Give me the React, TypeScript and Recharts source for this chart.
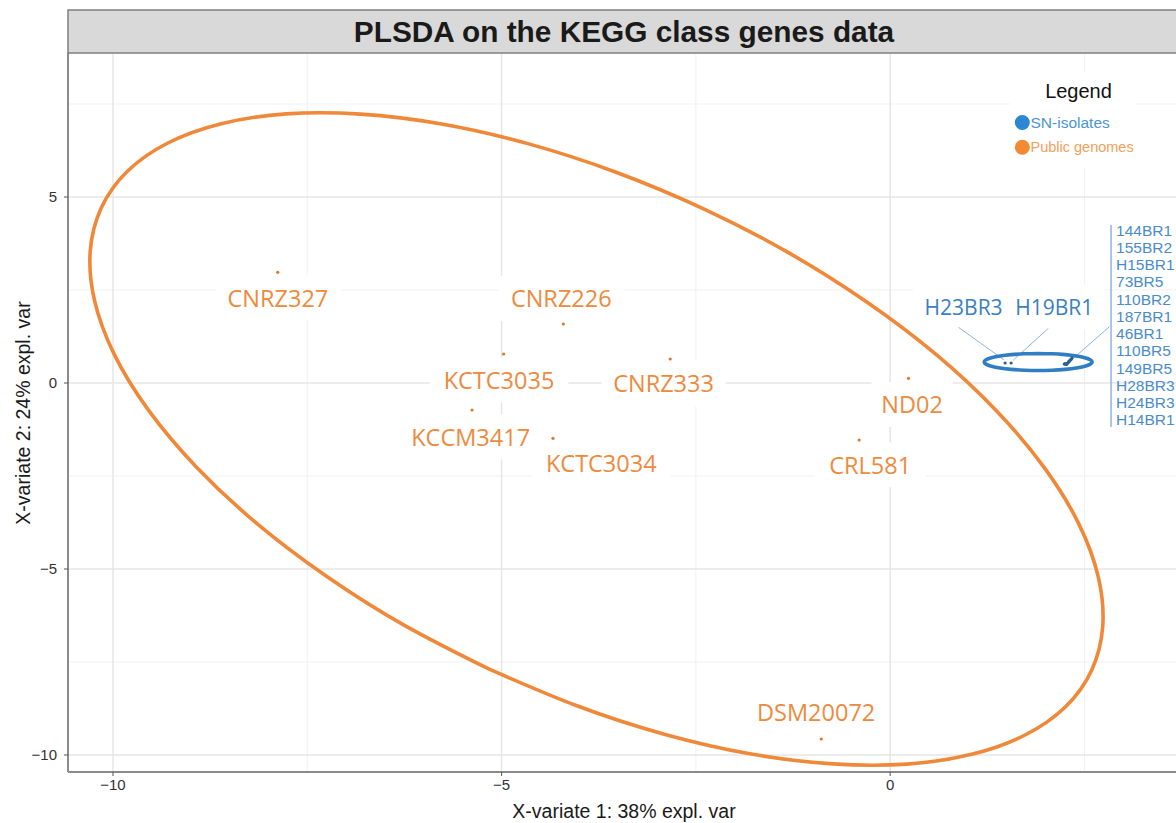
import React from 'react';
import { ScatterChart, Scatter, XAxis, YAxis, CartesianGrid, Legend } from 'recharts';

// ---------- data ----------
const publicNames = ['CNRZ327', 'CNRZ226', 'KCTC3035', 'CNRZ333', 'KCCM3417', 'KCTC3034', 'ND02', 'CRL581', 'DSM20072'];
const publicX = [-7.88, -4.206, -4.974, -2.83, -5.38, -4.338, 0.236, -0.399, -0.887];
const publicY = [2.976, 1.586, 0.78, 0.645, -0.726, -1.487, 0.126, -1.532, -9.57];
const publicLabelX = [-7.878, -4.232, -5.033, -2.916, -5.398, -3.717, 0.283, -0.257, -0.952];
const publicLabelY = [2.266, 2.258, 0.067, -0.022, -1.465, -2.172, -0.591, -2.212, -8.852];

const isolateNames = ['H23BR3', 'H19BR1', '144BR1', '155BR2', 'H15BR1', '73BR5', '110BR2', '187BR1', '46BR1', '110BR5', '149BR5', 'H28BR3', 'H24BR3', 'H14BR1'];
const isolateX = [1.479, 1.556, 2.24, 2.25, 2.27, 2.28, 2.3, 2.31, 2.33, 2.34, 2.29, 2.32, 2.26, 2.3];
const isolateY = [0.538, 0.538, 0.51, 0.52, 0.5, 0.53, 0.57, 0.6, 0.64, 0.67, 0.55, 0.62, 0.51, 0.58];

const repelledNames = ['H23BR3', 'H19BR1'];
const repelledLabelX = [0.945, 2.112];
const repelledLabelY = [2.038, 2.038];

const clusterNames = ['144BR1', '155BR2', 'H15BR1', '73BR5', '110BR2', '187BR1', '46BR1', '110BR5', '149BR5', 'H28BR3', 'H24BR3', 'H14BR1'];
const clusterAnchorX = [2.842];
const clusterAnchorY = [4.247];

const leaderStartX = [0.878, 2.036, 2.821];
const leaderStartY = [1.497, 1.47, 1.513];
const leaderEndX = [1.466, 1.586, 2.358];
const leaderEndY = [0.618, 0.618, 0.664];

const publicEllipseX = [-5.158, -6.244, -7.253, -8.159, -8.931, -9.546, -9.987, -10.238, -10.293, -10.15, -9.815, -9.294, -8.607, -7.772, -6.817, -5.771, -4.662, -3.527, -2.4, -1.314, -0.305, 0.602, 1.373, 1.988, 2.429, 2.68, 2.735, 2.593, 2.257, 1.736, 1.049, 0.215, -0.74, -1.787, -2.896, -4.031, -5.158];
const publicEllipseY = [-7.694, -6.522, -5.194, -3.758, -2.25, -0.723, 0.782, 2.22, 3.54, 4.71, 5.691, 6.452, 6.97, 7.234, 7.228, 6.962, 6.435, 5.667, 4.683, 3.511, 2.183, 0.747, -0.761, -2.288, -3.793, -5.231, -6.551, -7.72, -8.702, -9.462, -9.981, -10.245, -10.239, -9.973, -9.446, -8.677, -7.694];

const isolateEllipseX = [1.904, 1.724, 1.557, 1.413, 1.303, 1.233, 1.21, 1.233, 1.303, 1.413, 1.557, 1.724, 1.904, 2.084, 2.251, 2.395, 2.505, 2.575, 2.599, 2.575, 2.505, 2.395, 2.251, 2.084, 1.904];
const isolateEllipseY = [0.794, 0.786, 0.763, 0.727, 0.679, 0.624, 0.565, 0.506, 0.451, 0.403, 0.367, 0.344, 0.336, 0.344, 0.367, 0.403, 0.451, 0.506, 0.565, 0.624, 0.679, 0.727, 0.763, 0.786, 0.794];

const xTicks = [-10, -5, 0];
const yTicks = [-10, -5, 0, 5];
const xMajor = [-10, -5, 0];
const xMinor = [-7.5, -2.5, 2.5];
const yMajor = [-10, -5, 0, 5];
const yMinor = [-7.5, -2.5, 2.5, 7.5];
const xDomain = [-10.579, 3.678];
const yDomain = [-10.457, 8.871];

const legendTitle = 'Legend';
const legendNames = ['SN-isolates', 'Public genomes'];
const chartTitle = 'PLSDA on the KEGG class genes data';
const xTitle = 'X-variate 1: 38% expl. var';
const yTitle = 'X-variate 2: 24% expl. var';

// ---------- styles ----------
const ORANGE = '#EE8A3D';
const ORANGE_PT = '#D97A30';
const BLUE = '#3A7FC1';
const BLUE_LINE = '#2F7DC2';
const BLUE_LEADER = '#8DB4DC';
const W = 1176;
const H = 823;

const zip = (xs: number[], ys: number[], names?: string[]) =>
  xs.map((x, i) => ({ x, y: ys[i], name: names ? names[i] : '' }));

const publicPoints = zip(publicX, publicY, publicNames);
const publicLabels = zip(publicLabelX, publicLabelY, publicNames);
const isolatePoints = zip(isolateX, isolateY, isolateNames);
const repelledLabels = zip(repelledLabelX, repelledLabelY, repelledNames);
const clusterAnchor = zip(clusterAnchorX, clusterAnchorY, ['cluster']);
const publicEllipse = zip(publicEllipseX, publicEllipseY);
const isolateEllipse = zip(isolateEllipseX, isolateEllipseY);
const leaders = leaderStartX.map((_, i) => [
  { x: leaderStartX[i], y: leaderStartY[i] },
  { x: leaderEndX[i], y: leaderEndY[i] },
]);

const nothing = () => <g />;

const makeLabel = (color: string, fontSize: number) => (props: any) => {
  const { cx, cy, payload } = props;
  const name: string = payload.name;
  const w = name.length * fontSize * 0.61 + 24;
  return (
    <g>
      <rect x={cx - w / 2} y={cy - 23} width={w} height={45} fill="#ffffff" />
      <text
        x={cx}
        y={cy + fontSize * 0.357}
        textAnchor="middle"
        fontFamily="'Open Sans', 'Noto Sans', sans-serif"
        fontSize={fontSize}
        fill={color}
      >
        {name}
      </text>
    </g>
  );
};

const dot = (color: string, r: number) => (props: any) => (
  <circle cx={props.cx} cy={props.cy} r={r} fill={color} />
);

const clusterShape = (props: any) => {
  const { cx, cy } = props;
  const step = 17.25;
  return (
    <g>
      <line x1={cx} y1={cy} x2={cx} y2={cy + 202} stroke={BLUE_LEADER} strokeWidth={1.5} />
      {clusterNames.map((n, i) => (
        <text
          key={n}
          x={cx + 5}
          y={cy + 10.5 + i * step}
          fontFamily="'Liberation Sans', Arial, sans-serif"
          fontSize={15.5}
          fill="#4A8CCB"
        >
          {n}
        </text>
      ))}
    </g>
  );
};

const renderLegend = () => (
  <svg width={126} height={96} style={{ display: 'block' }}>
    <rect x={0} y={0} width={126} height={96} fill="#ffffff" />
    <text x={68.5} y={25.5} textAnchor="middle" fontFamily="'Liberation Sans', Arial, sans-serif" fontSize={20} fill="#111">
      {legendTitle}
    </text>
    <circle cx={12.3} cy={50.5} r={7.5} fill="#2B86D4" />
    <text x={20.5} y={56} fontFamily="'Liberation Sans', Arial, sans-serif" fontSize={15.5} fill="#4A95D6">
      {legendNames[0]}
    </text>
    <circle cx={12.3} cy={75.3} r={7.5} fill="#F28A34" />
    <text x={20.5} y={80} fontFamily="'Liberation Sans', Arial, sans-serif" fontSize={14.5} fill="#F2A05A">
      {legendNames[1]}
    </text>
  </svg>
);

const fmt = (v: number) => String(v).replace('-', '\u2212');

export default function App() {
  return (
    <div style={{ position: 'absolute', left: 0, top: 0, width: W, height: H, overflow: 'hidden', background: '#fff' }}>
      <ScatterChart width={W} height={H} margin={{ top: 53, right: 0, bottom: 0, left: 0 }}>
        <CartesianGrid verticalValues={xMinor} horizontalValues={yMinor} stroke="#f1f1f1" strokeWidth={1} />
        <CartesianGrid verticalValues={xMajor} horizontalValues={yMajor} stroke="#e6e6e6" strokeWidth={1.5} />
        <XAxis
          type="number"
          dataKey="x"
          domain={xDomain}
          allowDataOverflow
          ticks={xTicks}
          tickFormatter={fmt}
          height={51}
          tickSize={4}
          tickMargin={3}
          stroke="#888"
          axisLine={{ stroke: '#8a8a8a', strokeWidth: 2 }}
          tickLine={{ stroke: '#555' }}
          tick={{ fontSize: 15, fill: '#333', fontFamily: "'Liberation Sans', Arial, sans-serif" }}
        />
        <YAxis
          type="number"
          dataKey="y"
          domain={yDomain}
          allowDataOverflow
          ticks={yTicks}
          tickFormatter={fmt}
          width={68}
          tickSize={4}
          tickMargin={7}
          axisLine={{ stroke: '#8a8a8a', strokeWidth: 2 }}
          tickLine={{ stroke: '#555' }}
          tick={{ fontSize: 15, fill: '#333', fontFamily: "'Liberation Sans', Arial, sans-serif" }}
        />
        <Legend
          layout="vertical"
          align="center"
          verticalAlign="middle"
          content={renderLegend}
          wrapperStyle={{ position: 'absolute', left: 1010, top: 72, width: 126, height: 96 }}
        />
        <Scatter name="labels" data={publicLabels} shape={makeLabel(ORANGE, 23.5)} isAnimationActive={false} legendType="none" />
        <Scatter name="isoLabels" data={repelledLabels} shape={makeLabel(BLUE, 21)} isAnimationActive={false} legendType="none" />
        {leaders.map((seg, i) => (
          <Scatter
            key={i}
            data={seg}
            line={{ stroke: BLUE_LEADER, strokeWidth: 1 }}
            shape={nothing}
            isAnimationActive={false}
            legendType="none"
          />
        ))}
        <Scatter name="cluster" data={clusterAnchor} shape={clusterShape} isAnimationActive={false} legendType="none" />
        <Scatter
          name="ellipsePublic"
          data={publicEllipse}
          line={{ stroke: '#F0883A', strokeWidth: 3.6 }}
          lineJointType="natural"
          shape={nothing}
          isAnimationActive={false}
          legendType="none"
        />
        <Scatter
          name="ellipseIsolates"
          data={isolateEllipse}
          line={{ stroke: BLUE_LINE, strokeWidth: 3.6 }}
          lineJointType="natural"
          shape={nothing}
          isAnimationActive={false}
          legendType="none"
        />
        <Scatter name="Public genomes" data={publicPoints} shape={dot(ORANGE_PT, 1.6)} isAnimationActive={false} />
        <Scatter name="SN-isolates" data={isolatePoints} shape={dot('#2A5F93', 1.6)} isAnimationActive={false} />
      </ScatterChart>
      <svg width={W} height={H} style={{ position: 'absolute', left: 0, top: 0, pointerEvents: 'none' }}>
        <rect x={68} y={10} width={1120} height={43} fill="#d9d9d9" stroke="#7f7f7f" strokeWidth={1.5} />
        <text
          x={624}
          y={42}
          textAnchor="middle"
          fontFamily="'Liberation Sans', Arial, sans-serif"
          fontWeight="bold"
          fontSize={29.8}
          fill="#1a1a1a"
        >
          {chartTitle}
        </text>
        <text x={624} y={818} textAnchor="middle" fontFamily="'Liberation Sans', Arial, sans-serif" fontSize={19.5} fill="#1a1a1a">
          {xTitle}
        </text>
        <text
          transform="translate(30,413) rotate(-90)"
          textAnchor="middle"
          fontFamily="'Liberation Sans', Arial, sans-serif"
          fontSize={19.5}
          fill="#1a1a1a"
        >
          {yTitle}
        </text>
      </svg>
    </div>
  );
}
